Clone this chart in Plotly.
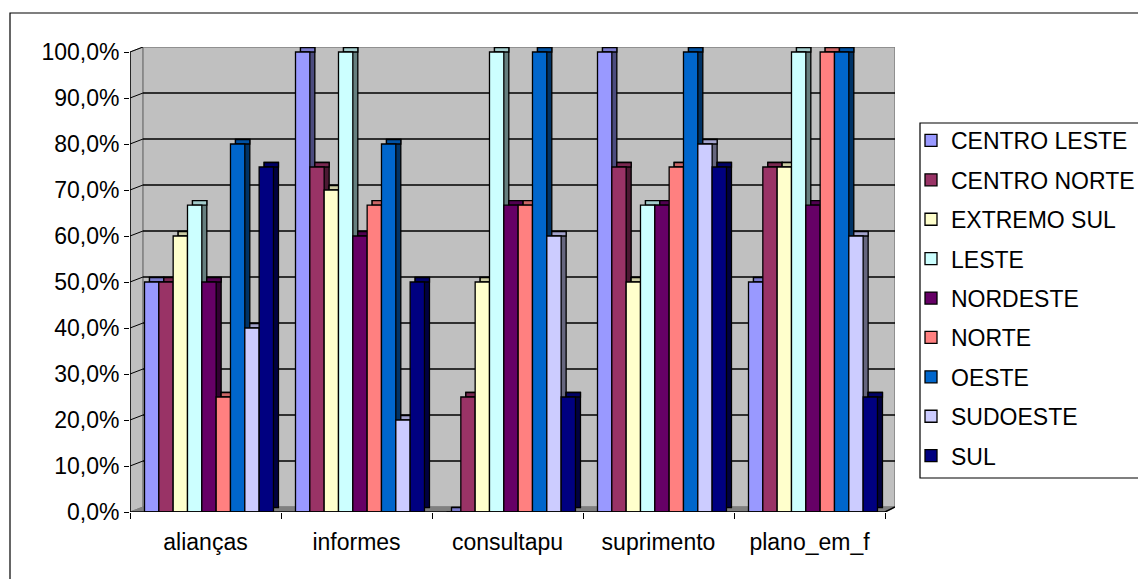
import plotly.graph_objects as go

# ---- data -------------------------------------------------------------
categories = ["alianças", "informes", "consultapu", "suprimento", "plano_em_f"]
series_names = ["CENTRO LESTE", "CENTRO NORTE", "EXTREMO SUL", "LESTE",
                "NORDESTE", "NORTE", "OESTE", "SUDOESTE", "SUL"]

centro_leste = [0.50, 1.00, 0.00, 1.00, 0.50]
centro_norte = [0.50, 0.75, 0.25, 0.75, 0.75]
extremo_sul = [0.60, 0.70, 0.50, 0.50, 0.75]
leste = [0.667, 1.00, 1.00, 0.667, 1.00]
nordeste = [0.50, 0.60, 0.667, 0.667, 0.667]
norte = [0.25, 0.667, 0.667, 0.75, 1.00]
oeste = [0.80, 0.80, 1.00, 1.00, 1.00]
sudoeste = [0.40, 0.20, 0.60, 0.80, 0.60]
sul = [0.75, 0.50, 0.25, 0.75, 0.25]

series_values = [centro_leste, centro_norte, extremo_sul, leste,
                 nordeste, norte, oeste, sudoeste, sul]

# ---- style ------------------------------------------------------------
front_colors = ["#9999FF", "#993366", "#FFFFCC", "#CCFFFF", "#660066",
                "#FF8080", "#0066CC", "#CCCCFF", "#000080"]
FONT = "Liberation Sans, Arial, sans-serif"
FS = 23


def shade(hex_color, f):
    h = hex_color.lstrip("#")
    r, g, b = (int(h[i:i + 2], 16) for i in (0, 2, 4))
    return "#%02X%02X%02X" % (int(r * f), int(g * f), int(b * f))


# pixel geometry of the plotting box
W, H = 1138, 579
PX_L, PX_R, PX_T, PX_B = 130, 895, 47, 512     # plot area
CAT_PX = 151.0                                 # width of one category
UNIT_PX = 460.0                                # pixels for 100 %


def xd(px):
    return -0.5 + (px - PX_L) / CAT_PX


def yd(py):
    return (PX_B - py) / UNIT_PX


gap0 = 14.5 / CAT_PX      # space before the first bar of a group
bw = 14.33 / CAT_PX       # width of one bar
dx = 5.0 / CAT_PX         # depth offset, horizontal
dy = 4.5 / UNIT_PX        # depth offset, vertical
wall_dx = 13.0 / CAT_PX   # back wall offset
wall_dy = 5.0 / UNIT_PX

fig = go.Figure()

for k, (name, vals, col) in enumerate(zip(series_names, series_values, front_colors)):
    off = -0.5 + gap0 + k * bw
    line = dict(color="black", width=1.3)
    # side face
    fig.add_trace(go.Bar(
        x=categories, y=vals, base=dy, offset=off + dx, width=bw,
        marker=dict(color=shade(col, 0.5), line=line),
        showlegend=False, legendgroup=name, hoverinfo="skip"))
    # top face
    fig.add_trace(go.Bar(
        x=categories, y=[dy] * len(vals), base=vals, offset=off + dx, width=bw,
        marker=dict(color=shade(col, 0.8), line=line),
        showlegend=False, legendgroup=name, hoverinfo="skip"))
    # front face
    fig.add_trace(go.Bar(
        x=categories, y=vals, offset=off, width=bw, name=name,
        marker=dict(color=col, line=line), legendgroup=name))

# ---- 3-D box: side wall, back wall, floor, gridlines ------------------
shapes = []
x_front_l, x_front_r = -0.5, 4.5
x_back_l, x_back_r = -0.5 + wall_dx, xd(PX_R)
top_v = 1.0

shapes.append(dict(type="path", xref="x", yref="y", layer="below",
                   path=f"M{x_front_l},0 L{x_front_l},{top_v} L{x_back_l},{top_v + wall_dy} "
                        f"L{x_back_l},{wall_dy} Z",
                   fillcolor="#C0C0C0", line=dict(color="#808080", width=1)))
shapes.append(dict(type="rect", xref="x", yref="y", layer="below",
                   x0=x_back_l, x1=x_back_r, y0=wall_dy, y1=top_v + wall_dy,
                   fillcolor="#C0C0C0", line=dict(color="#808080", width=1.5)))
shapes.append(dict(type="path", xref="x", yref="y", layer="below",
                   path=f"M{x_front_l},0 L{x_front_r},0 L{x_back_r},{wall_dy} "
                        f"L{x_back_l},{wall_dy} Z",
                   fillcolor="#808080", line=dict(color="#808080", width=1)))

tick_vals = [i / 10 for i in range(11)]
for v in tick_vals[1:-1]:
    shapes.append(dict(type="line", xref="x", yref="y", layer="below",
                       x0=x_back_l, x1=x_back_r, y0=v + wall_dy, y1=v + wall_dy,
                       line=dict(color="black", width=1.5)))
for v in tick_vals[1:]:
    shapes.append(dict(type="line", xref="x", yref="y", layer="below",
                       x0=x_front_l, x1=x_back_l, y0=v, y1=v + wall_dy,
                       line=dict(color="black", width=1)))

# front axis lines
shapes.append(dict(type="line", xref="x", yref="y", x0=x_front_l, x1=x_front_l,
                   y0=0, y1=top_v, line=dict(color="black", width=1.5)))
shapes.append(dict(type="path", xref="x", yref="y",
                   path=f"M{x_front_l},0 L{x_front_r},0 L{x_back_r},{wall_dy}",
                   line=dict(color="black", width=1.5)))

# outer chart frame (left and top edges) and legend frame
fx = lambda px: (px - PX_L) / (PX_R - PX_L)
fy = lambda py: (PX_B - py) / (PX_B - PX_T)
shapes.append(dict(type="path", xref="paper", yref="paper",
                   path=f"M{fx(10)},{fy(600)} L{fx(10)},{fy(13)} L{fx(1200)},{fy(13)}",
                   line=dict(color="black", width=1.2)))
shapes.append(dict(type="rect", xref="paper", yref="paper",
                   x0=fx(920), x1=fx(1200), y0=fy(478), y1=fy(123),
                   fillcolor="white", line=dict(color="black", width=1.2), layer="below"))

fig.update_layout(
    width=W, height=H, autosize=False,
    margin=dict(l=PX_L, r=W - PX_R, t=PX_T, b=H - PX_B, pad=0, autoexpand=False),
    barmode="overlay",
    paper_bgcolor="white", plot_bgcolor="rgba(0,0,0,0)",
    separators=",.",
    font=dict(family=FONT, size=FS, color="black"),
    shapes=shapes,
    legend=dict(xref="container", yref="container",
                x=911 / W, y=1 - 119 / H, xanchor="left", yanchor="top",
                borderwidth=0, bgcolor="rgba(0,0,0,0)", maxheight=1.0,
                tracegroupgap=6.5, font=dict(family=FONT, size=FS, color="black"),
                traceorder="grouped"),
    xaxis=dict(type="category", range=[-0.5, xd(PX_R)], tickson="boundaries",
               ticks="outside", ticklen=6, tickcolor="black", tickwidth=1.2,
               ticklabelstandoff=14,
               showgrid=False, showline=False, zeroline=False,
               tickfont=dict(family=FONT, size=FS, color="black")),
    yaxis=dict(range=[0, yd(PX_T)], tickvals=tick_vals, tickformat=".1%",
               ticks="outside", ticklen=5, tickcolor="black", tickwidth=1.2,
               showgrid=False, showline=False, zeroline=False,
               tickfont=dict(family=FONT, size=FS, color="black")),
)

fig.write_html("out.html")
